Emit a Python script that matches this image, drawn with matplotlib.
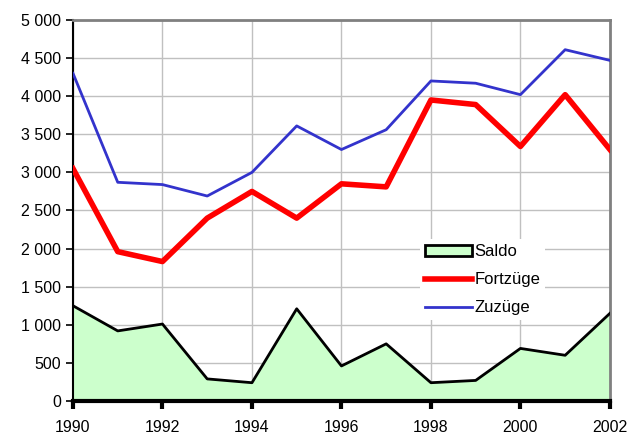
import matplotlib
matplotlib.use("Agg")
import matplotlib.pyplot as plt
from matplotlib.ticker import FuncFormatter, MultipleLocator
from matplotlib.patches import Patch
from matplotlib.lines import Line2D

plt.rcParams["font.family"] = ["Liberation Sans", "DejaVu Sans"]

years = list(range(1990, 2003))
zuzuege = [4300, 2870, 2840, 2690, 3000, 3610, 3300, 3560, 4200, 4170, 4020, 4610, 4470]
fortzuege = [3050, 1960, 1830, 2400, 2750, 2400, 2850, 2810, 3950, 3890, 3340, 4020, 3300]
saldo = [1250, 920, 1010, 290, 240, 1210, 460, 750, 240, 270, 690, 600, 1150]

fig = plt.figure(figsize=(6.42, 4.43), dpi=100)
ax = fig.add_axes([0.1137, 0.0948, 0.8363, 0.8601])

ax.fill_between(years, saldo, 0, facecolor="#ccffcc", edgecolor="none", zorder=2)
ax.plot(years, saldo, color="black", lw=2, zorder=3)
ax.plot(years, fortzuege, color="#ff0000", lw=4, zorder=4)
ax.plot(years, zuzuege, color="#3333cc", lw=2, zorder=4)

ax.set_xlim(1990, 2002)
ax.set_ylim(0, 5000)
ax.xaxis.set_major_locator(MultipleLocator(2))
ax.yaxis.set_major_locator(MultipleLocator(500))
ax.yaxis.set_major_formatter(FuncFormatter(lambda v, p: f"{int(v):,}".replace(",", " ")))

ax.grid(True, color="#c0c0c0", lw=1, zorder=0)
ax.set_axisbelow(True)

for side in ("top", "right"):
    ax.spines[side].set_color("#808080")
    ax.spines[side].set_linewidth(2)
ax.spines["left"].set_color("black")
ax.spines["left"].set_linewidth(1.5)
ax.spines["bottom"].set_color("black")
ax.spines["bottom"].set_linewidth(3)

ax.tick_params(axis="y", direction="out", length=5, width=1.2, labelsize=11.5, colors="black")
ax.tick_params(axis="x", direction="out", length=6, width=3, labelsize=11.5, pad=8)

handles = [
    Patch(facecolor="#ccffcc", edgecolor="black", lw=2, label="Saldo"),
    Line2D([], [], color="#ff0000", lw=4, label="Fortzüge"),
    Line2D([], [], color="#3333cc", lw=2, label="Zuzüge"),
]
leg = ax.legend(handles=handles, loc="upper left", bbox_to_anchor=(0.631, 0.446),
                frameon=True, fancybox=False, edgecolor="none", facecolor="white",
                framealpha=1, fontsize=12, handlelength=2.8, handletextpad=0.15,
                labelspacing=0.78, borderpad=0.3)
leg.set_zorder(5)

fig.savefig("out.png", dpi=100)
